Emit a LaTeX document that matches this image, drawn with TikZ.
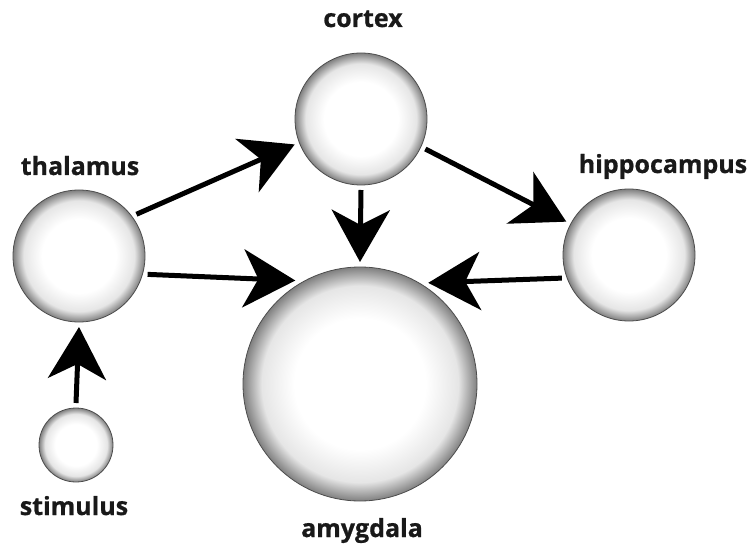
\documentclass[tikz,border=0pt]{standalone}
\usepackage{fontspec}
\setsansfont{Open Sans}[BoldFeatures={FakeBold=0.8}]
\usetikzlibrary{arrows.meta}
\colorlet{orbin}{white}
\colorlet{orbmid}{black!10}
\colorlet{orbout}{black!50}
\pgfdeclareradialshading{orbshade}{\pgfpoint{0bp}{0bp}}{color(0bp)=(orbin); color(14bp)=(orbin); color(21bp)=(orbmid); color(25bp)=(orbout); color(50bp)=(orbout)}

\begin{document}
\begin{tikzpicture}[x=1pt,y=-1pt,
  font=\sffamily\bfseries\fontsize{25}{29}\selectfont,
  orb/.style={circle,shading=orbshade,draw=black!70,line width=.8pt,
              inner sep=0pt,outer sep=5pt},
  lbl/.style={anchor=base,text=black!90},
  arr/.style={-{Stealth[length=52pt,width=58pt,inset=15pt]},line width=5pt}]
\useasboundingbox (0,0) rectangle (755,548);

% Brain regions as shaded spheres; sizes in px of the original figure.
\foreach \nm/\xc/\yc/\rr in {thal/79/256/66, cortex/361/119/66,
  hippo/629/255/66, amyg/360/384/117, stim/76/445/37}{
  \node[orb,minimum size=\rr*2pt] (\nm) at (\xc,\yc) {};
}
\node[lbl] (thallbl) at (80,175) {thalamus};
\node[lbl] (cortexlbl) at (363,27) {cortex};
\node[lbl] (hippolbl) at (663,173) {hippocampus};
\node[lbl] (amyglbl) at (362,537) {amygdala};
\node[lbl] (stimlbl) at (74,515) {stimulus};

\draw[arr] (stim.90) -- (thal.270);
\draw[arr] (thal.36) -- (cortex.201);
\draw[arr] (thal.-15) -- (amyg.122);
\draw[arr] (cortex.270) -- (amyg.90);
\draw[arr] (cortex.-25) -- (hippo.152);
\draw[arr] (hippo.199) -- (amyg.56);
\end{tikzpicture}
\end{document}
